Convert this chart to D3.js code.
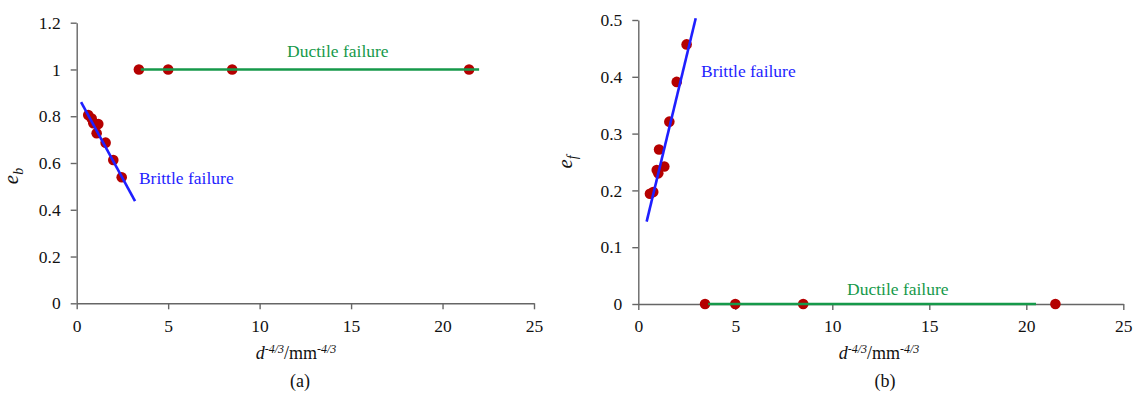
<!DOCTYPE html>
<html>
<head>
<meta charset="utf-8">
<script src="https://cdn.jsdelivr.net/npm/d3@7"></script>
<style>
  body { margin: 0; background: #fff; }
</style>
</head>
<body>
<div id="chart"></div>
<script>
// ---- data ----
const xTicks = [0, 5, 10, 15, 20, 25];
const yTicksA = [0, 0.2, 0.4, 0.6, 0.8, 1, 1.2];
const yTicksB = [0, 0.1, 0.2, 0.3, 0.4, 0.5];

// panel (a): e_b vs d^-4/3
const brittleA = [
  {x: 0.63, y: 0.805}, {x: 0.82, y: 0.79}, {x: 0.91, y: 0.77}, {x: 1.18, y: 0.767},
  {x: 1.09, y: 0.727}, {x: 1.58, y: 0.687}, {x: 2.0, y: 0.613}, {x: 2.46, y: 0.539}
];
const ductileA = [{x: 3.4, y: 1}, {x: 5.0, y: 1}, {x: 8.5, y: 1}, {x: 21.45, y: 1}];
const brittleFitA = [{x: 0.24, y: 0.86}, {x: 3.19, y: 0.437}];
const ductileFitA = [{x: 3.5, y: 1}, {x: 22.0, y: 1}];

// panel (b): e_f vs d^-4/3
const brittleB = [
  {x: 2.49, y: 0.457}, {x: 1.98, y: 0.391}, {x: 1.6, y: 0.321}, {x: 1.07, y: 0.272},
  {x: 0.95, y: 0.236}, {x: 1.34, y: 0.242}, {x: 1.03, y: 0.23}, {x: 0.77, y: 0.197},
  {x: 0.6, y: 0.194}
];
const ductileB = [{x: 3.44, y: 0}, {x: 5.0, y: 0}, {x: 8.5, y: 0}, {x: 21.5, y: 0}];
const brittleFitB = [{x: 0.43, y: 0.145}, {x: 2.96, y: 0.503}];
const ductileFitB = [{x: 3.6, y: 0}, {x: 20.5, y: 0}];

const red = '#b50000';
const blue = '#1f1fff';
const green = '#16994a';
const axisGrey = '#666';
const ink = '#111';
const serif = "'Liberation Serif'";

const svg = d3.select('#chart')
  .append('svg')
    .attr('width', 1140)
    .attr('height', 394);

// style the axis after d3 has built it
function styleAxis(g) {
  g.selectAll('path, line')
      .style('stroke', axisGrey)
      .style('stroke-width', 1.4);
  g.selectAll('text')
      .style('font-family', serif)
      .style('font-size', '17.5px')
      .style('fill', ink);
}

function drawPanel(opt) {
  const x = d3.scaleLinear().domain([0, 25]).range(opt.xRange);
  const y = d3.scaleLinear().domain(opt.yDomain).range(opt.yRange);

  // axes
  svg.append('g')
      .attr('transform', `translate(0, ${opt.yRange[0]})`)
      .call(d3.axisBottom(x).tickValues(xTicks).tickSize(6).tickPadding(10).tickSizeOuter(0).tickFormat(d3.format('d')))
      .call(styleAxis);
  svg.append('g')
      .attr('transform', `translate(${opt.xRange[0]}, 0)`)
      .call(d3.axisLeft(y).tickValues(opt.yTicks).tickSize(6).tickPadding(10).tickSizeOuter(0).tickFormat(d => d3.format('~g')(d)))
      .call(styleAxis);

  // points first, lines over them
  svg.append('g')
      .attr('fill', red)
    .selectAll('circle')
    .data(opt.brittle.concat(opt.ductile))
    .join('circle')
      .attr('cx', d => x(d.x))
      .attr('cy', d => y(d.y))
      .attr('r', 5.3);

  const line = d3.line().x(d => x(d.x)).y(d => y(d.y));
  svg.append('path')
      .attr('d', line(opt.ductileFit))
      .attr('fill', 'none')
      .attr('stroke', green)
      .attr('stroke-width', 2.6);
  svg.append('path')
      .attr('d', line(opt.brittleFit))
      .attr('fill', 'none')
      .attr('stroke', blue)
      .attr('stroke-width', 2.6);

  // annotations
  svg.append('text')
      .attr('x', x(opt.ductileLabel[0]))
      .attr('y', y(opt.ductileLabel[1]) + opt.ductileLabel[2])
      .style('fill', green)
      .style('font-family', serif)
      .style('font-size', '17.5px')
      .text('Ductile failure');
  svg.append('text')
      .attr('x', x(opt.brittleLabel[0]))
      .attr('y', y(opt.brittleLabel[1]))
      .style('fill', blue)
      .style('font-family', serif)
      .style('font-size', '17.5px')
      .text('Brittle failure');

  // y label (italic e with subscript)
  const yl = svg.append('text')
      .attr('transform', `translate(${opt.yLabelPos[0]}, ${opt.yLabelPos[1]}) rotate(-90)`)
      .attr('text-anchor', 'middle')
      .style('fill', ink)
      .style('font-family', serif)
      .style('font-size', '21px')
      .style('font-style', 'italic');
  yl.append('tspan').text('e');
  yl.append('tspan').attr('dy', 5).style('font-size', '14px').text(opt.sub);

  // x label d^-4/3/mm^-4/3
  const xl = svg.append('text')
      .attr('x', opt.xLabelPos[0])
      .attr('y', opt.xLabelPos[1])
      .attr('text-anchor', 'middle')
      .style('fill', ink)
      .style('font-family', serif)
      .style('font-size', '18px');
  xl.append('tspan').style('font-style', 'italic').text('d');
  xl.append('tspan').attr('dy', -6).style('font-size', '12px').style('font-style', 'italic').text('-4/3');
  xl.append('tspan').attr('dy', 6).text('/mm');
  xl.append('tspan').attr('dy', -6).style('font-size', '12px').style('font-style', 'italic').text('-4/3');

  svg.append('text')
      .attr('x', opt.captionPos[0])
      .attr('y', opt.captionPos[1])
      .attr('text-anchor', 'middle')
      .style('fill', ink)
      .style('font-family', serif)
      .style('font-size', '18px')
      .text(opt.caption);
}

drawPanel({
  xRange: [76.7, 534], yRange: [303.3, 22.7], yDomain: [0, 1.2], yTicks: yTicksA,
  brittle: brittleA, ductile: ductileA, brittleFit: brittleFitA, ductileFit: ductileFitA,
  ductileLabel: [11.5, 1, -12], brittleLabel: [3.4, 0.51],
  sub: 'b', yLabelPos: [18, 176], xLabelPos: [296, 359], captionPos: [300, 387], caption: '(a)'
});

drawPanel({
  xRange: [638.3, 1123.3], yRange: [304, 20], yDomain: [0, 0.5], yTicks: yTicksB,
  brittle: brittleB, ductile: ductileB, brittleFit: brittleFitB, ductileFit: ductileFitB,
  ductileLabel: [10.76, 0, -9], brittleLabel: [3.23, 0.40],
  sub: 'f', yLabelPos: [572, 162], xLabelPos: [879, 359], captionPos: [885, 387], caption: '(b)'
});
</script>
</body>
</html>
